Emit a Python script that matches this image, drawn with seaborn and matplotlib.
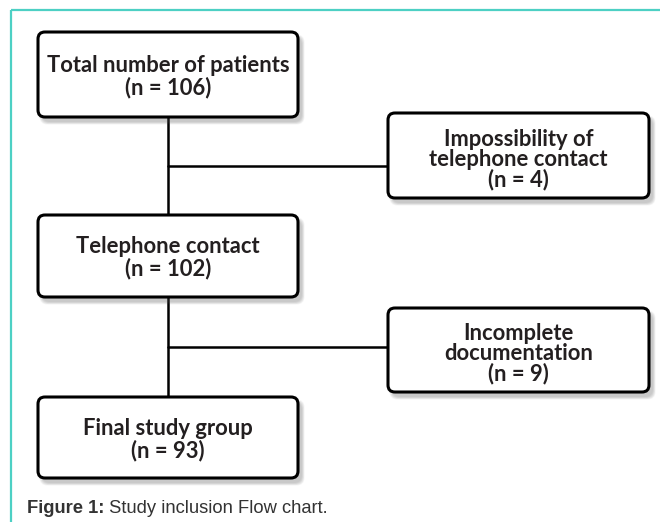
import matplotlib
matplotlib.use('Agg')
import matplotlib.pyplot as plt
from matplotlib.patches import FancyBboxPatch
import seaborn as sns

# Flow chart content
main_titles = ['Total number of patients', 'Telephone contact', 'Final study group']
main_n = [106, 102, 93]
excl_titles = ['Impossibility of\ntelephone contact', 'Incomplete\ndocumentation']
excl_n = [4, 9]
caption_bold = 'Figure 1:'
caption_text = ' Study inclusion Flow chart.'

sns.set_theme(style='white')
plt.rcParams['font.family'] = ['Lato', 'DejaVu Sans']

fig = plt.figure(figsize=(6.6, 5.22), dpi=100)
ax = fig.add_axes([0, 0, 1, 1])
ax.set_xlim(0, 660)
ax.set_ylim(522, 0)
ax.axis('off')

# layout (pixels)
main_x = (38, 298)
main_y = [(32, 117), (215, 297), (397, 478)]
excl_x = (388, 649)
excl_y = [(113, 198), (308, 392)]
stem_x = 168
branch_y = [166, 347]
text_col = '#231f20'


def draw_box(x0, x1, y0, y1):
    # soft drop shadow
    for i in range(6):
        grow = 5 - i
        ax.add_patch(FancyBboxPatch((x0 + 4 - grow / 2, y0 + 5 - grow / 2), x1 - x0 + grow, y1 - y0 + grow,
                                    boxstyle='round,pad=0,rounding_size=8', fc='#555555', ec='none',
                                    alpha=0.06, zorder=2))
    ax.add_patch(FancyBboxPatch((x0, y0), x1 - x0, y1 - y0,
                                boxstyle='round,pad=0,rounding_size=7', fc='white', ec='black',
                                lw=2.2, zorder=3))


# connectors
ax.plot([stem_x, stem_x], [main_y[0][1], main_y[2][0]], color='black', lw=1.8, zorder=1)
for by in branch_y:
    ax.plot([stem_x, excl_x[0]], [by, by], color='black', lw=1.8, zorder=1)

for (y0, y1), title, n in zip(main_y, main_titles, main_n):
    draw_box(main_x[0], main_x[1], y0, y1)
    ax.text((main_x[0] + main_x[1]) / 2, (y0 + y1) / 2 + 2, f'{title}\n(n = {n})',
            ha='center', va='center', fontsize=15.8, fontweight='bold', color=text_col,
            linespacing=1.03, zorder=4)

for (y0, y1), title, n in zip(excl_y, excl_titles, excl_n):
    draw_box(excl_x[0], excl_x[1], y0, y1)
    ax.text((excl_x[0] + excl_x[1]) / 2, (y0 + y1) / 2 + 4, f'{title}\n(n = {n})',
            ha='center', va='center', fontsize=15.8, fontweight='bold', color=text_col,
            linespacing=0.93, zorder=4)

# teal frame
ax.plot([11, 11], [10, 522], color='#4dd0c4', lw=1.6, solid_capstyle='butt')
ax.plot([11, 660], [10, 10], color='#4dd0c4', lw=1.6, solid_capstyle='butt')

# caption
t = ax.text(27, 513, caption_bold, ha='left', va='baseline', fontsize=13.2, fontweight='bold',
            color='#333333', family=['Liberation Sans', 'DejaVu Sans'])
ax.annotate(caption_text, xy=(1, 0), xycoords=t, ha='left', va='bottom', fontsize=13.2,
            color='#333333', family=['Liberation Sans', 'DejaVu Sans'])

fig.savefig('out.png', dpi=100)
